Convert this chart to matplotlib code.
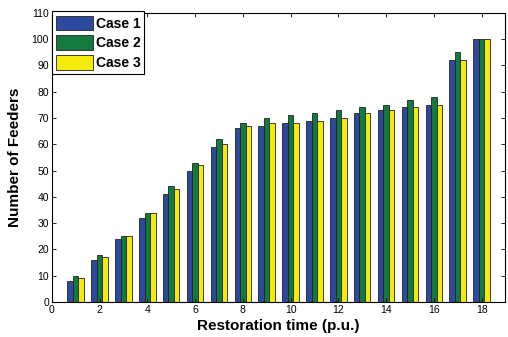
import numpy as np
import matplotlib.pyplot as plt

plt.rcParams['font.family'] = ['Liberation Sans', 'DejaVu Sans']

times = np.arange(1, 19)
case1 = [8, 16, 24, 32, 41, 50, 59, 66, 67, 68, 69, 70, 72, 73, 74, 75, 92, 100]
case2 = [10, 18, 25, 34, 44, 53, 62, 68, 70, 71, 72, 73, 74, 75, 77, 78, 95, 100]
case3 = [9, 17, 25, 34, 43, 52, 60, 67, 68, 68, 69, 70, 72, 73, 74, 75, 92, 100]
labels = ['Case 1', 'Case 2', 'Case 3']
colors = ['#2E4A9E', '#137A3E', '#F4EA0C']

fig = plt.figure(figsize=(5.08, 3.37), dpi=100)
ax = fig.add_axes([0.102, 0.104, 0.893, 0.858])

w = 0.23
for k, (vals, lab, c) in enumerate(zip([case1, case2, case3], labels, colors)):
    ax.bar(times + (k - 1) * w, vals, width=w, color=c, edgecolor='#222222',
           linewidth=0.6, label=lab)

ax.set_xlim(0, 19)
ax.set_ylim(0, 110)
ax.set_xticks(np.arange(0, 19, 2))
ax.set_yticks(np.arange(0, 111, 10))
ax.tick_params(direction='in', top=True, right=True, labelsize=7.5,
               length=3, width=0.6, pad=2)
for s in ax.spines.values():
    s.set_linewidth(0.8)

ax.set_xlabel('Restoration time (p.u.)', fontsize=11, fontweight='bold', labelpad=3)
ax.set_ylabel('Number of Feeders', fontsize=11, fontweight='bold', labelpad=7)

leg = ax.legend(loc='upper left', bbox_to_anchor=(0.0, 1.005),
                prop={'weight': 'bold', 'size': 10}, fancybox=False,
                framealpha=1, edgecolor='black', borderpad=0.3,
                labelspacing=0.35, handlelength=2.7, handleheight=1.25,
                handletextpad=0.15, borderaxespad=0)
leg.get_frame().set_linewidth(0.8)

fig.savefig('out.png', dpi=100)
